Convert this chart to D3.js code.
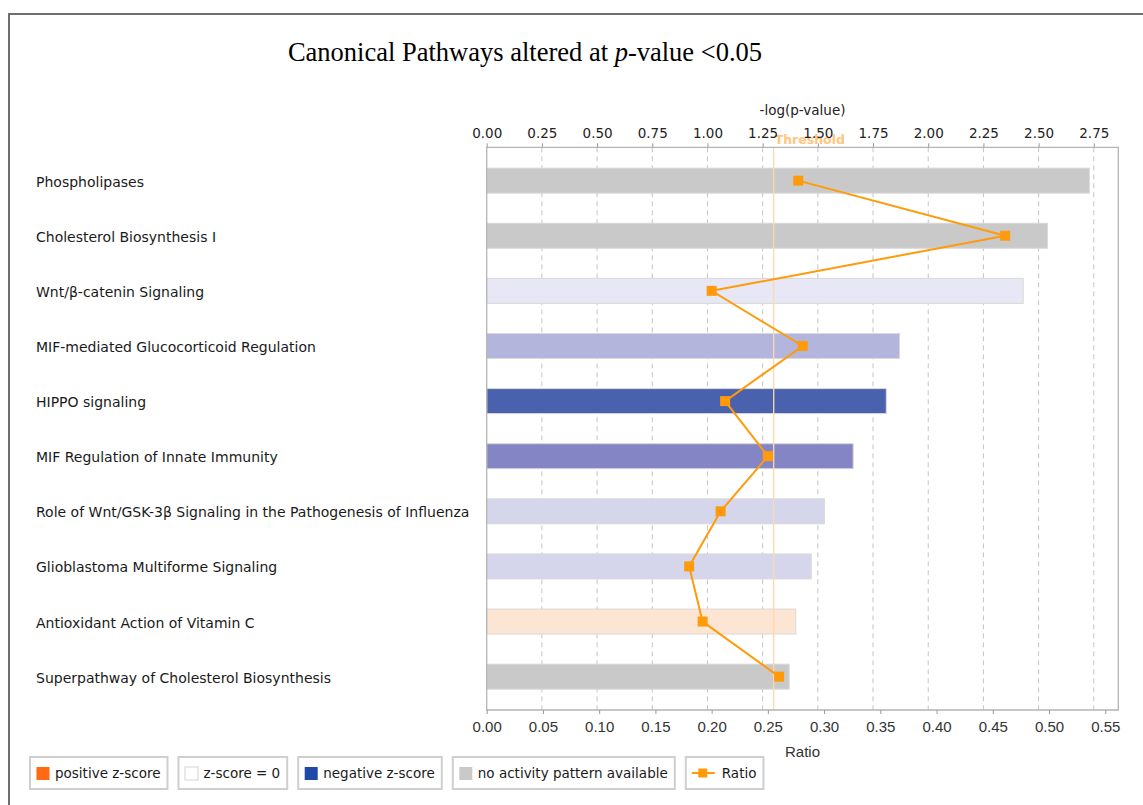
<!DOCTYPE html>
<html>
<head>
<meta charset="utf-8">
<script src="https://cdn.jsdelivr.net/npm/d3@7/dist/d3.min.js"></script>
<style>
  html, body { margin: 0; padding: 0; background: #ffffff; }
  svg { display: block; }
</style>
</head>
<body>
<svg id="chart" width="1143" height="805"></svg>
<script>
// Canonical pathways: -log(p-value) bars with the overlap ratio as a line
const pathways = [
  "Phospholipases",
  "Cholesterol Biosynthesis I",
  "Wnt/β-catenin Signaling",
  "MIF-mediated Glucocorticoid Regulation",
  "HIPPO signaling",
  "MIF Regulation of Innate Immunity",
  "Role of Wnt/GSK-3β Signaling in the Pathogenesis of Influenza",
  "Glioblastoma Multiforme Signaling",
  "Antioxidant Action of Vitamin C",
  "Superpathway of Cholesterol Biosynthesis"
];
const negLogP = [2.73, 2.54, 2.43, 1.87, 1.81, 1.66, 1.53, 1.47, 1.40, 1.37];
const ratios = [0.277, 0.461, 0.200, 0.281, 0.212, 0.250, 0.208, 0.180, 0.192, 0.260];
const zScoreClass = ["none", "none", "neg0", "neg2", "neg4", "neg3", "neg1", "neg1", "pos1", "none"];
const pValueTicks = [0, 0.25, 0.5, 0.75, 1, 1.25, 1.5, 1.75, 2, 2.25, 2.5, 2.75];
const ratioTicks = [0, 0.05, 0.1, 0.15, 0.2, 0.25, 0.3, 0.35, 0.4, 0.45, 0.5, 0.55];
const threshold = 1.3;
const legendItems = ["positive z-score", "z-score = 0", "negative z-score", "no activity pattern available", "Ratio"];

// fills for the z-score shades
const shade = {
  none: "#c9c9c9",
  neg0: "#e7e7f5",
  neg1: "#d5d6eb",
  neg2: "#b3b5dd",
  neg3: "#8485c5",
  neg4: "#4a62ae",
  pos1: "#fde5d4"
};
const legendSwatch = ["#ff6a13", "#ffffff", "#1f48a8", "#c9c9c9"];
const orange = "#ff9a0a";

const svg = d3.select("#chart");

// outer frame
svg.append("path")
  .attr("d", "M9,805 V14 H1143")
  .attr("fill", "none")
  .attr("stroke", "#6e6e6e")
  .attr("stroke-width", 2);

// title
const title = svg.append("text")
  .attr("x", 525)
  .attr("y", 61)
  .attr("text-anchor", "middle")
  .attr("font-family", "'Liberation Serif', 'Times New Roman', serif")
  .attr("font-size", 26.5)
  .attr("fill", "#000");
title.append("tspan").text("Canonical Pathways altered at ");
title.append("tspan").attr("font-style", "italic").text("p");
title.append("tspan").text("-value <0.05");

const plot = { left: 486.7, right: 1118.3, top: 147.3, bottom: 710 };

const xP = d3.scaleLinear().domain([0, 2.861]).range([plot.left, plot.right]);
const xR = d3.scaleLinear().domain([0, 0.5616]).range([plot.left, plot.right]);
const y = d3.scalePoint().domain(pathways).range([plot.top, plot.bottom]).padding(0.605);
const barH = 25;

// dashed grid at the -log(p) ticks
svg.append("g").selectAll("line")
  .data(pValueTicks.filter(t => t > 0))
  .join("line")
  .attr("x1", d => xP(d)).attr("x2", d => xP(d))
  .attr("y1", plot.top).attr("y2", plot.bottom)
  .attr("stroke", "#c4c4c4")
  .attr("stroke-width", 1)
  .attr("stroke-dasharray", "5,4");

// bars
svg.append("g").selectAll("rect")
  .data(pathways)
  .join("rect")
  .attr("x", xP(0))
  .attr("y", d => y(d) - barH / 2)
  .attr("width", (d, i) => xP(negLogP[i]) - xP(0))
  .attr("height", barH)
  .attr("fill", (d, i) => shade[zScoreClass[i]])
  .attr("stroke", "#d8d8d8")
  .attr("stroke-width", 1);

// threshold line and label
svg.append("line")
  .attr("x1", xP(threshold)).attr("x2", xP(threshold))
  .attr("y1", plot.top).attr("y2", plot.bottom)
  .attr("stroke", "#fcd9ae")
  .attr("stroke-width", 1.3);
svg.append("text")
  .attr("x", xP(threshold) + 1)
  .attr("y", 143.5)
  .attr("font-family", "'DejaVu Sans', Verdana, sans-serif")
  .attr("font-size", 12.5)
  .attr("font-weight", "bold")
  .attr("fill", "#ffc680")
  .text("Threshold");

// plot box
svg.append("path")
  .attr("d", `M${plot.left},${plot.top} H${plot.right} V${plot.bottom} H${plot.left} Z`)
  .attr("fill", "none")
  .attr("stroke", "#b4b4b4")
  .attr("stroke-width", 1.3);

// top axis: -log(p-value)
const topAxis = d3.axisTop(xP).tickValues(pValueTicks).tickFormat(d3.format(".2f")).tickSize(4).tickPadding(5);
const gTop = svg.append("g").attr("transform", `translate(0,${plot.top})`).call(topAxis);
gTop.select(".domain").remove();
gTop.selectAll(".tick line").attr("stroke", "#999");
gTop.selectAll(".tick text")
  .attr("font-family", "'DejaVu Sans', Verdana, sans-serif")
  .attr("font-size", 13.5)
  .attr("fill", "#222");
svg.append("text")
  .attr("x", (plot.left + plot.right) / 2)
  .attr("y", 115)
  .attr("text-anchor", "middle")
  .attr("font-family", "'DejaVu Sans', Verdana, sans-serif")
  .attr("font-size", 13.5)
  .attr("fill", "#222")
  .text("-log(p-value)");

// bottom axis: ratio
const botAxis = d3.axisBottom(xR).tickValues(ratioTicks).tickFormat(d3.format(".2f")).tickSize(4).tickPadding(7);
const gBot = svg.append("g").attr("transform", `translate(0,${plot.bottom})`).call(botAxis);
gBot.select(".domain").remove();
gBot.selectAll(".tick line").attr("stroke", "#999");
gBot.selectAll(".tick text")
  .attr("font-family", "'Liberation Sans', Arial, sans-serif")
  .attr("font-size", 15)
  .attr("fill", "#333");
svg.append("text")
  .attr("x", (plot.left + plot.right) / 2)
  .attr("y", 757)
  .attr("text-anchor", "middle")
  .attr("font-family", "'Liberation Sans', Arial, sans-serif")
  .attr("font-size", 15)
  .attr("fill", "#333")
  .text("Ratio");

// category labels
svg.append("g").selectAll("text")
  .data(pathways)
  .join("text")
  .attr("x", 36)
  .attr("y", d => y(d) + 1)
  .attr("dy", "0.36em")
  .attr("font-family", "'DejaVu Sans', Verdana, sans-serif")
  .attr("font-size", 14)
  .attr("fill", "#1a1a1a")
  .text(d => d);

// ratio line with square markers
const line = d3.line()
  .x((d, i) => xR(ratios[i]))
  .y(d => y(d));
svg.append("path")
  .datum(pathways)
  .attr("d", line)
  .attr("fill", "none")
  .attr("stroke", orange)
  .attr("stroke-width", 2);
const ms = 10;
svg.append("g").selectAll("rect")
  .data(pathways)
  .join("rect")
  .attr("x", (d, i) => xR(ratios[i]) - ms / 2)
  .attr("y", d => y(d) - ms / 2)
  .attr("width", ms)
  .attr("height", ms)
  .attr("fill", orange);

// legend
const legend = svg.append("g").attr("transform", "translate(0,757)");
let lx = 30;
legendItems.forEach((label, i) => {
  const g = legend.append("g").attr("transform", `translate(${lx},0)`);
  const isLine = i === legendItems.length - 1;
  const txt = g.append("text")
    .attr("x", isLine ? 36 : 25)
    .attr("y", 16.5)
    .attr("dy", "0.36em")
    .attr("font-family", "'DejaVu Sans', Verdana, sans-serif")
    .attr("font-size", 13.5)
    .attr("fill", "#1a1a1a")
    .text(label);
  const w = txt.node().getComputedTextLength() + (isLine ? 36 : 25) + 7;
  g.insert("rect", "text")
    .attr("x", 0).attr("y", 0)
    .attr("width", w).attr("height", 32)
    .attr("fill", "#fff")
    .attr("stroke", "#cfcfcf")
    .attr("stroke-width", 2);
  if (isLine) {
    g.append("line")
      .attr("x1", 6).attr("x2", 29)
      .attr("y1", 16).attr("y2", 16)
      .attr("stroke", orange).attr("stroke-width", 2);
    g.append("rect")
      .attr("x", 12.5).attr("y", 11.5)
      .attr("width", 9).attr("height", 9)
      .attr("fill", orange);
  } else {
    g.append("rect")
      .attr("x", 6.5).attr("y", 10)
      .attr("width", 13).attr("height", 13)
      .attr("fill", legendSwatch[i])
      .attr("stroke", i === 1 ? "#d4d4d4" : "none");
  }
  lx += w + 11;
});
</script>
</body>
</html>
